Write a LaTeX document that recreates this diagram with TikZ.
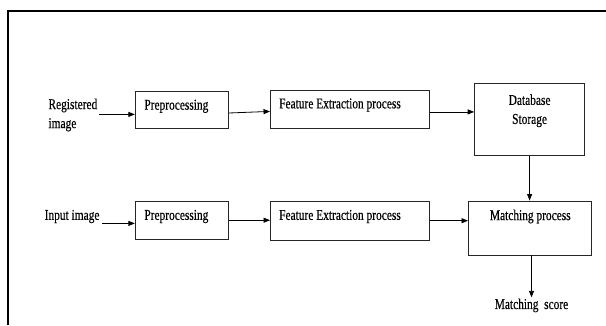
\documentclass[tikz,border=0pt]{standalone}
\usepackage{fontspec}
\setmainfont{Liberation Serif}[FakeStretch=0.76,FakeBold=0.4]
\usepackage{tikz}
\usetikzlibrary{positioning,arrows.meta,calc}
\definecolor{lineDark}{HTML}{262626}

\begin{document}
\begin{tikzpicture}[
    x=1pt, y=-1pt,
    procbox/.style={draw=lineDark, line width=0.9pt, minimum width=#1, inner sep=0pt},
    txt/.style={font=\fontsize{15}{19}\selectfont, inner sep=0pt},
    arr/.style={draw=black, line width=0.8pt, -{Triangle[length=6.5pt,width=5pt]}}
]
\useasboundingbox (0,0) rectangle (606,325);

% ===== FRAME =====
\draw[line width=2pt] (8,325) -- (8,11) -- (606,11);

% ===== ROW 1 (registration) =====
\node[procbox=93pt, minimum height=37.5pt] (pre1) at (181.8,110) {};
\node[procbox=159pt, minimum height=38.7pt] (fe1) at (350,109.4) {};
\node[procbox=110pt, minimum height=72.7pt] (db) at (529.6,119.5) {};
\node[txt, align=left, anchor=west] (reg) at (48.3,115) {Registered\\image};
\node[txt, anchor=west] (pre1txt) at (144.2,106.3) {Preprocessing};
\node[txt, anchor=west] (fe1txt) at (279,105) {Feature Extraction process};
\node[txt, align=center] (dbtxt) at (529.6,110.8) {Database\\Storage};

% ===== ROW 2 (query) =====
\node[procbox=93pt, minimum height=37.5pt] (pre2) at (181.8,220.2) {};
\node[procbox=159pt, minimum height=38.6pt] (fe2) at (350,220.7) {};
\node[procbox=123pt, minimum height=54pt] (match) at (530,228) {};
\node[txt, anchor=west] (inp) at (44.5,216.5) {Input image};
\node[txt, anchor=west] (pre2txt) at (144.2,216.5) {Preprocessing};
\node[txt, anchor=west] (fe2txt) at (279,216.5) {Feature Extraction process};
\node[txt] (matchtxt) at (530.3,216.5) {Matching process};
\node[txt, inner sep=1pt] (score) at (531.5,305.4) {Matching~~score};

% ===== CONNECTORS =====
\coordinate (regout) at (99,114.4);
\coordinate (inpout) at (102.4,223.4);
\draw[arr] (regout) -- (regout -| pre1.west);
\draw[arr] ([yshift=-3pt]pre1.east) -- ([yshift=-2pt]fe1.west);
\draw[arr] ([yshift=-2.5pt]fe1.east) -- ([yshift=-2.5pt]fe1.east -| db.west);
\draw[arr] (db.south) -- (db.south |- match.north);
\draw[arr] (inpout) -- (inpout -| pre2.west);
\draw[arr] (pre2.east) -- (pre2.east -| fe2.west);
\draw[arr] (fe2.east) -- (fe2.east -| match.west);
\draw[arr] (score.north |- match.south) -- (score.north);

\end{tikzpicture}
\end{document}
